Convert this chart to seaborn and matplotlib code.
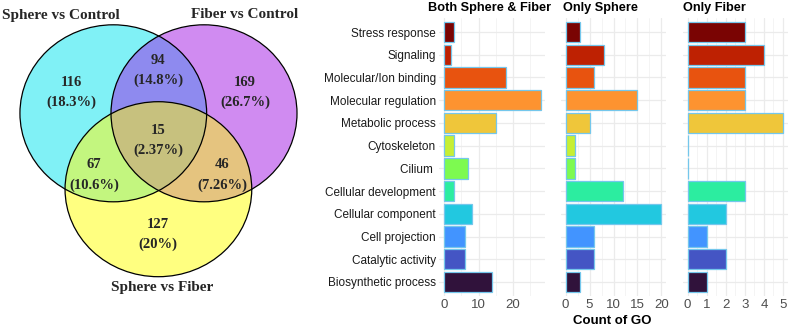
import numpy as np
import pandas as pd
import matplotlib
matplotlib.use("Agg")
import matplotlib.pyplot as plt
from matplotlib.patches import Ellipse
from matplotlib.ticker import MultipleLocator
import seaborn as sns

# ---------------- data ----------------
categories = ["Stress response", "Signaling", "Molecular/Ion binding",
              "Molecular regulation", "Metabolic process", "Cytoskeleton",
              "Cilium ", "Cellular development", "Cellular component",
              "Cell projection", "Catalytic activity", "Biosynthetic process"]
both_counts = [3, 2, 18, 28, 15, 3, 7, 3, 8, 6, 6, 14]
sphere_counts = [3, 8, 6, 15, 5, 2, 2, 12, 20, 6, 6, 3]
fiber_counts = [3, 4, 3, 3, 5, 0, 0, 3, 2, 1, 2, 1]
panel_titles = ["Both Sphere & Fiber", "Only Sphere", "Only Fiber"]
bar_colors = ["#7A0403", "#BE2102", "#E8530F", "#FD9330", "#EFC63A", "#C6EF34",
              "#7DFA50", "#2CEDA0", "#22C8E0", "#4294FF", "#4455C4", "#30123B"]

venn_sets = ["Sphere vs Control", "Fiber vs Control", "Sphere vs Fiber"]
venn_counts = {"A": 116, "B": 169, "C": 127, "AB": 94, "AC": 67, "BC": 46, "ABC": 15}
venn_pcts = {"A": "18.3%", "B": "26.7%", "C": "20%", "AB": "14.8%", "AC": "10.6%",
             "BC": "7.26%", "ABC": "2.37%"}

# ---------------- figure ----------------
sns.set_theme(style="white")
plt.rcParams['font.family'] = ['Liberation Sans', 'DejaVu Sans']
W, H = 789, 328
fig = plt.figure(figsize=(W / 100, H / 100), dpi=100)
fig.patch.set_facecolor("white")

# ---------- Venn diagram ----------
vax = fig.add_axes([0, 0, 330 / W, 1])
vax.set_xlim(0, 330)
vax.set_ylim(328, 0)
vax.axis("off")

ell = {"A": (113.3, 113.3, 186.7, 177), "B": (204, 113.3, 186, 177),
       "C": (158.4, 189.2, 186.7, 175)}
region_colors = {"A": "#80F1F7", "B": "#D08CF2", "C": "#FFFF80", "AB": "#8E8AF0",
                 "AC": "#C3F77F", "BC": "#E6C47F", "ABC": "#C7C17E"}

res = 3
xs = (np.arange(330 * res) + 0.5) / res
ys = (np.arange(328 * res) + 0.5) / res
X, Y = np.meshgrid(xs, ys)
masks = {}
for k, (cx, cy, w, h) in ell.items():
    masks[k] = ((X - cx) / (w / 2)) ** 2 + ((Y - cy) / (h / 2)) ** 2 <= 1
img = np.ones((len(ys), len(xs), 4))
img[..., 3] = 0
for key, col in region_colors.items():
    inside = np.ones_like(X, dtype=bool)
    for k in "ABC":
        inside &= masks[k] if k in key else ~masks[k]
    img[inside] = matplotlib.colors.to_rgba(col)
vax.imshow(img, extent=(0, 330, 328, 0), interpolation="bilinear", zorder=1)
for k, (cx, cy, w, h) in ell.items():
    vax.add_patch(Ellipse((cx, cy), w, h, fill=False, edgecolor="black",
                          linewidth=0.9, zorder=2))

serif = ["Liberation Serif", "DejaVu Serif"]
label_pos = {"A": (61, 15), "B": (245, 15), "C": (162, 288)}
for k, name in zip("ABC", venn_sets):
    vax.text(*label_pos[k], name, ha="center", va="center", fontsize=11,
             fontweight="bold", family=serif, zorder=3)
num_pos = {"A": (71, 82), "B": (245, 82), "C": (158, 224), "AB": (158, 60),
           "AC": (94, 165), "BC": (222, 165), "ABC": (158, 130)}
for k, (x, y) in num_pos.items():
    vax.text(x, y, str(venn_counts[k]), ha="center", va="center", fontsize=10.5,
             fontweight="bold", family=serif, zorder=3)
    vax.text(x, y + 20, "(" + venn_pcts[k] + ")", ha="center", va="center",
             fontsize=10.5, fontweight="bold", family=serif, zorder=3)

# ---------- bar panels ----------
top_px, bot_px = 18.4, 295.6
panels = [
    (both_counts, 439.2, 545.4, (-1.4, 29.4), 10, 5),
    (sphere_counts, 560.9, 666.1, (-1.0, 21.0), 5, 2.5),
    (fiber_counts, 682.9, 787.8, (-0.25, 5.25), 1, 0.5),
]
title_x = [428, 563, 683]
for i, (vals, l, r, xl, major, minor) in enumerate(panels):
    ax = fig.add_axes([l / W, 1 - bot_px / H, (r - l) / W, (bot_px - top_px) / H])
    df = pd.DataFrame({"category": categories, "count": vals})
    sns.barplot(data=df, x="count", y="category", hue="category",
                palette=bar_colors, order=categories, hue_order=categories,
                orient="h", ax=ax, legend=False, width=0.9, saturation=1,
                edgecolor="#74C7EC", linewidth=0.9, zorder=3)
    ax.set_xlim(*xl)
    ax.set_ylim(len(categories) - 0.4, -0.6)
    ax.xaxis.set_major_locator(MultipleLocator(major))
    ax.xaxis.set_minor_locator(MultipleLocator(minor))
    ax.grid(True, which="major", axis="both", color="#EBEBEB", linewidth=0.9, zorder=0)
    ax.grid(True, which="minor", axis="x", color="#F3F3F3", linewidth=0.6, zorder=0)
    ax.set_axisbelow(True)
    for s in ax.spines.values():
        s.set_visible(False)
    ax.set_facecolor("white")
    ax.set_xlabel("")
    ax.set_ylabel("")
    ax.tick_params(axis="x", which="both", length=0, pad=2.5, labelsize=9.5,
                   labelcolor="#4D4D4D")
    ax.tick_params(axis="y", length=0, pad=2.5, labelsize=8.5, labelcolor="#1A1A1A")
    if i > 0:
        ax.set_yticklabels([])
    fig.text(title_x[i] / W, 1 - 7.5 / H, panel_titles[i], ha="left", va="center",
             fontsize=9.2, fontweight="bold", color="black")

fig.text(612 / W, 1 - 321 / H, "Count of GO", ha="center", va="center",
         fontsize=9.5, fontweight="bold", color="black")

fig.savefig("out.png", dpi=100, facecolor="white")
